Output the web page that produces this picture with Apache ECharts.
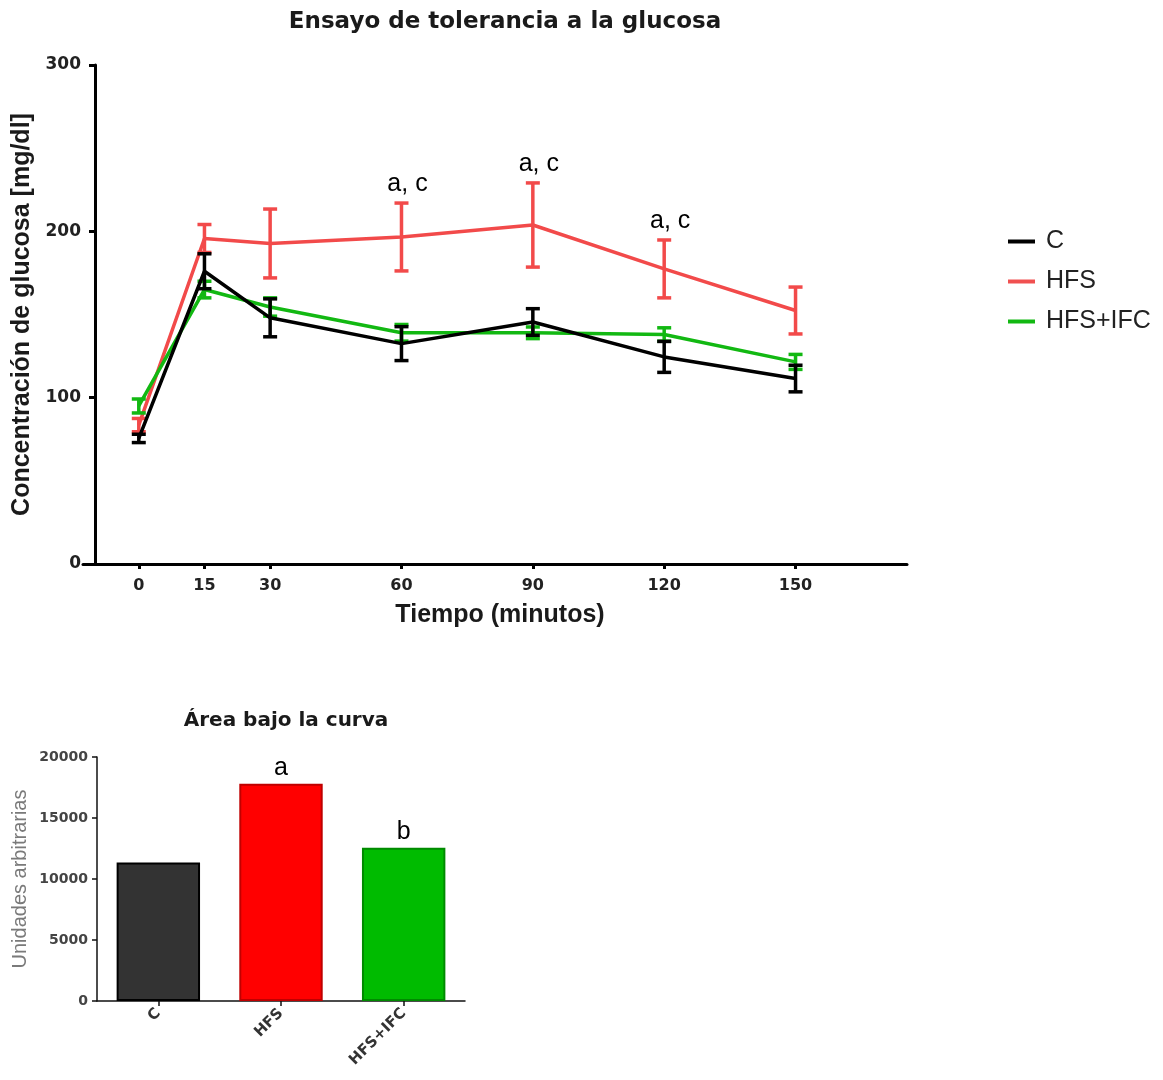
<!DOCTYPE html>
<html><head><meta charset="utf-8">
<script src="https://cdn.jsdelivr.net/npm/echarts@6/dist/echarts.min.js"></script>
<style>html,body{margin:0;padding:0;background:#fff}#c{width:1163px;height:1080px}</style>
</head><body><div id="c"></div>
<script>
// ---- data ----
const times = [0, 15, 30, 60, 90, 120, 150];
const xTickLabels = [0, 15, 30, 60, 90, 120, 150];
const cMean = [75.5, 176, 148, 132.5, 145.5, 124.5, 111.5];
const cErr  = [2.5, 10.5, 11.4, 10.2, 8, 9.3, 8];
const hfsMean = [83.5, 195.7, 192.7, 196.6, 203.8, 177.4, 152.4];
const hfsErr  = [4, 8.4, 20.7, 20.4, 25.3, 17.4, 14.1];
const ifcMean = [95, 165, 154.5, 139, 139, 138, 121.5];
const ifcErr  = [4.2, 5, 5.5, 5, 3.5, 4, 4.5];
const hfsNotes = ['', '', '', 'a, c', 'a, c', 'a, c', ''];
const groups = ['C', 'HFS', 'HFS+IFC'];
const auc = [11350, 17800, 12570];
const aucNotes = ['', 'a', 'b'];

const FONT = 'Arial, "Liberation Sans", sans-serif';
const WIDE = '"DejaVu Sans", sans-serif';
const colC = '#000000', colH = '#f24a4a', colI = '#12b812';

function errSeries(name, means, errs, color, z, notes) {
  return {
    type: 'custom', name: name, xAxisIndex: 0, yAxisIndex: 0, z: z,
    encode: {x: 0, y: [1, 2]},
    data: times.map((t, i) => [t, means[i] - errs[i], means[i] + errs[i]]),
    renderItem: function (params, api) {
      const x = api.value(0);
      const lo = api.coord([x, api.value(1)]);
      const hi = api.coord([x, api.value(2)]);
      const w = 7;
      const st = {stroke: color, lineWidth: 3.5, fill: null};
      const ch = [
        {type: 'line', shape: {x1: lo[0], y1: lo[1], x2: hi[0], y2: hi[1]}, style: st},
        {type: 'line', shape: {x1: lo[0] - w, y1: lo[1], x2: lo[0] + w, y2: lo[1]}, style: st},
        {type: 'line', shape: {x1: hi[0] - w, y1: hi[1], x2: hi[0] + w, y2: hi[1]}, style: st}
      ];
      const note = notes ? notes[params.dataIndex] : '';
      if (note) {
        ch.push({type: 'text', x: hi[0] + 6, y: hi[1] - 6,
          style: {text: note, align: 'center', verticalAlign: 'bottom', font: '25px ' + FONT, fill: '#000'}});
      }
      return {type: 'group', children: ch};
    }
  };
}
function lineSeries(name, means, color, z) {
  return {
    type: 'line', name: name, xAxisIndex: 0, yAxisIndex: 0, z: z,
    data: times.map((t, i) => [t, means[i]]),
    showSymbol: false, symbol: 'none',
    lineStyle: {color: color, width: 3.5}, itemStyle: {color: color}
  };
}

const chart = echarts.init(document.getElementById('c'));
chart.setOption({
  animation: false,
  textStyle: {fontFamily: FONT},
  title: [
    {text: 'Ensayo de tolerancia a la glucosa', left: 500, top: 6, textAlign: 'center',
     textStyle: {fontSize: 23, fontWeight: 'bold', color: '#1a1a1a', fontFamily: WIDE}},
    {text: 'Área bajo la curva', left: 281, top: 706, textAlign: 'center',
     textStyle: {fontSize: 20, fontWeight: 'bold', color: '#1a1a1a', fontFamily: WIDE}}
  ],
  legend: {
    orient: 'vertical', left: 1003, top: 224, itemGap: 15,
    icon: 'rect', itemWidth: 27, itemHeight: 4,
    textStyle: {fontSize: 25, color: '#222', fontFamily: FONT, padding: [0, 0, 0, 6]},
    data: [
      {name: 'C', itemStyle: {color: colC}},
      {name: 'HFS', itemStyle: {color: '#f05050'}},
      {name: 'HFS+IFC', itemStyle: {color: colI}}
    ]
  },
  grid: [
    {left: 95, top: 65, width: 810, height: 499, containLabel: false},
    {left: 97, top: 757, width: 368, height: 244, containLabel: false},
    {left: 83, top: 65, width: 824, height: 499, containLabel: false}
  ],
  xAxis: [
    {type: 'value', gridIndex: 0, min: -10, max: 175,
     axisLine: {onZero: false, lineStyle: {color: '#000', width: 3}},
     axisTick: {show: true, length: 5, customValues: xTickLabels, lineStyle: {color: '#000', width: 3}},
     axisLabel: {customValues: xTickLabels, margin: 14, fontSize: 16, fontWeight: 'bold', color: '#222', fontFamily: WIDE},
     splitLine: {show: false},
     name: 'Tiempo (minutos)', nameLocation: 'middle', nameGap: 39,
     nameTextStyle: {fontSize: 25, fontWeight: 'bold', color: '#1a1a1a', fontFamily: FONT}},
    {type: 'category', gridIndex: 1, data: groups,
     axisLine: {lineStyle: {color: '#111', width: 1.5}},
     axisTick: {show: true, alignWithLabel: true, length: 5, lineStyle: {color: '#111', width: 1.5}},
     axisLabel: {rotate: 45, fontSize: 15, fontWeight: 'bold', color: '#333', margin: 10, fontFamily: WIDE}},
    {type: 'value', gridIndex: 2, min: 0, max: 1,
     axisLine: {onZero: false, lineStyle: {color: '#000', width: 3}},
     axisTick: {show: false}, axisLabel: {show: false}, splitLine: {show: false}}
  ],
  yAxis: [
    {type: 'value', gridIndex: 0, min: 0, max: 300, interval: 100,
     axisLine: {show: true, onZero: false, lineStyle: {color: '#000', width: 3}},
     axisTick: {show: true, length: 6, lineStyle: {color: '#000', width: 3}},
     axisLabel: {margin: 14, fontSize: 17, fontWeight: 'bold', color: '#222', fontFamily: WIDE},
     splitLine: {show: false},
     name: 'Concentración de glucosa [mg/dl]', nameLocation: 'middle', nameGap: 60,
     nameTextStyle: {fontSize: 25, fontWeight: 'bold', color: '#1a1a1a', fontFamily: FONT}},
    {type: 'value', gridIndex: 1, min: 0, max: 20000, interval: 5000,
     axisLine: {show: true, lineStyle: {color: '#111', width: 1.5}},
     axisTick: {show: true, length: 5, lineStyle: {color: '#111', width: 1.5}},
     axisLabel: {margin: 9, fontSize: 14, fontWeight: 'bold', color: '#444', fontFamily: WIDE,
                 formatter: v => String(v)},
     splitLine: {show: false},
     name: 'Unidades arbitrarias', nameLocation: 'middle', nameGap: 67,
     nameTextStyle: {fontSize: 20, color: '#7a7a7a', fontFamily: FONT}},
    {type: 'value', gridIndex: 2, min: 0, max: 1, show: false}
  ],
  series: [
    lineSeries('HFS', hfsMean, colH, 2),
    lineSeries('HFS+IFC', ifcMean, colI, 3),
    lineSeries('C', cMean, colC, 4),
    errSeries('HFS', hfsMean, hfsErr, colH, 2, hfsNotes),
    errSeries('HFS+IFC', ifcMean, ifcErr, colI, 3, null),
    errSeries('C', cMean, cErr, colC, 5, null),
    {type: 'bar', xAxisIndex: 1, yAxisIndex: 1, barWidth: '68%',
     data: auc.map((v, i) => ({
       value: v,
       itemStyle: {color: ['#333333', '#ff0000', '#00bb00'][i],
                   borderColor: ['#000000', '#c00000', '#008a00'][i], borderWidth: 2},
       label: {show: !!aucNotes[i], formatter: aucNotes[i], position: 'top', distance: 3,
               fontSize: 25, color: '#000', fontFamily: FONT}
     }))}
  ]
});
</script></body></html>
